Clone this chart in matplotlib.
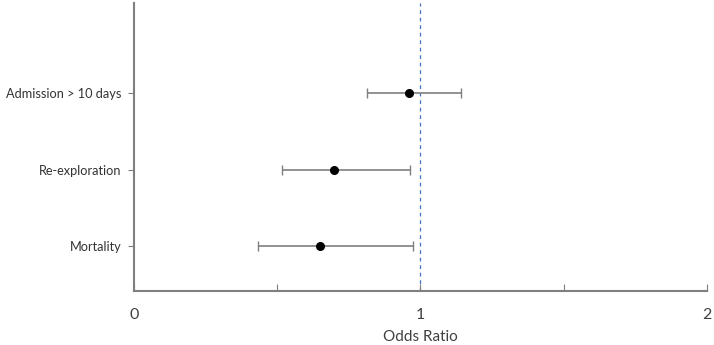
import matplotlib
matplotlib.use('Agg')
from matplotlib import pyplot

outcomes = ['Mortality', 'Re-exploration', 'Admission > 10 days']
odds_ratio = [0.650, 0.698, 0.961]
ci_low = [0.432, 0.515, 0.812]
ci_high = [0.973, 0.963, 1.142]

pyplot.rcParams['font.family'] = ['Lato', 'DejaVu Sans']

fig = pyplot.figure(figsize=(7.14, 3.45), dpi=100)
ax = fig.add_axes([0.1877, 0.1565, 0.8023, 0.8345])

ypos = list(range(1, len(outcomes) + 1))
err = [[o - l for o, l in zip(odds_ratio, ci_low)],
       [h - o for o, h in zip(odds_ratio, ci_high)]]
ax.errorbar(odds_ratio, ypos, xerr=err, fmt='o', color='black',
            markersize=5.5, ecolor='#7f7f7f', elinewidth=1.2,
            capsize=3.5, capthick=1.0, zorder=3)
ax.axvline(1.0, color='#4472c4', linestyle=(0, (3, 3)), linewidth=0.9,
           zorder=1)

ax.set_xlim(0, 2)
ax.set_ylim(0.41, 4.18)
ax.set_xticks([0, 0.5, 1, 1.5, 2])
ax.set_xticklabels(['0', '', '1', '', '2'])
ax.set_yticks(ypos)
ax.set_yticklabels(outcomes)
ax.tick_params(axis='x', direction='in', length=5, color='#7f7f7f',
               labelsize=11.5, labelcolor='#404040', pad=12)
ax.tick_params(axis='y', direction='out', length=4, color='#7f7f7f',
               labelsize=9.2, labelcolor='#333333', pad=5)
ax.set_xlabel('Odds Ratio', fontsize=11, color='#404040', labelpad=6)

for side in ['top', 'right']:
  ax.spines[side].set_visible(False)
for side in ['left', 'bottom']:
  ax.spines[side].set_color('#7f7f7f')
  ax.spines[side].set_linewidth(1.5)

fig.savefig('out.png', dpi=100)
